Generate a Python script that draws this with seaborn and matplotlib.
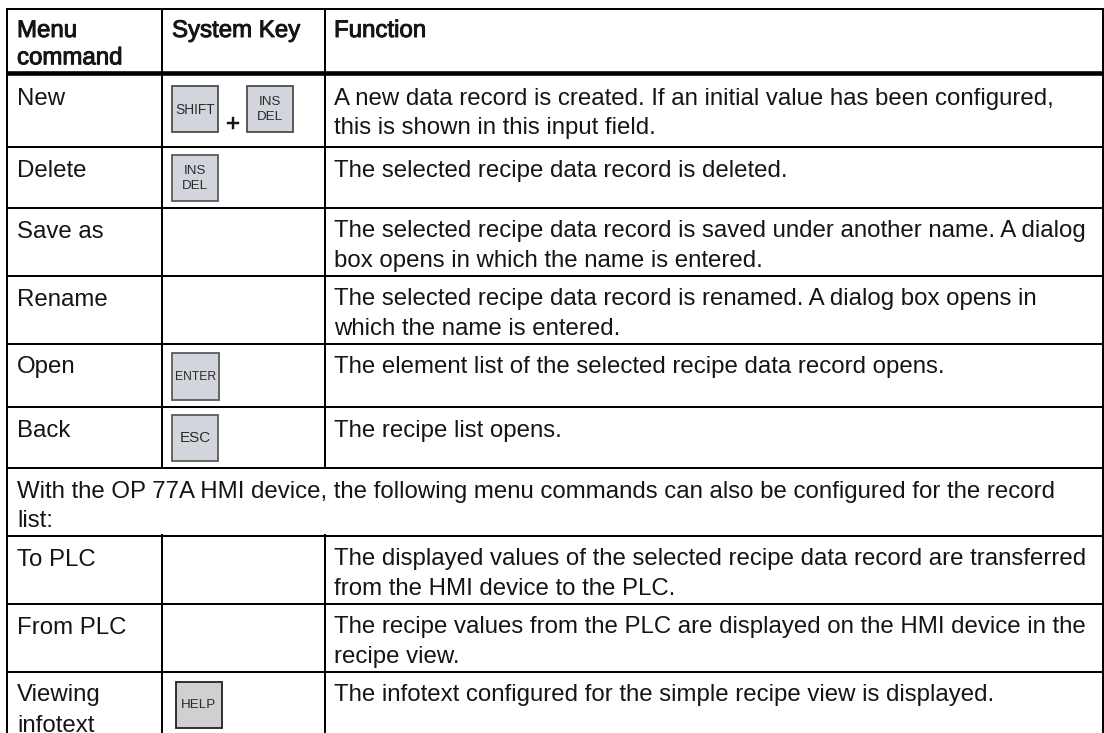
import matplotlib
matplotlib.use("Agg")
import matplotlib.pyplot as plt
import matplotlib.patheffects as pe
from matplotlib.patches import Rectangle
import seaborn as sns

sns.set_theme(style="white")
plt.rcParams["font.family"] = ["Liberation Sans", "DejaVu Sans"]

# ---------- content ----------
headers = ["Menu\ncommand", "System Key", "Function"]
menu_commands = ["New", "Delete", "Save as", "Rename", "Open", "Back",
                 "To PLC", "From PLC", "Viewing\ninfotext"]
functions = [
    "A new data record is created. If an initial value has been configured,\nthis is shown in this input field.",
    "The selected recipe data record is deleted.",
    "The selected recipe data record is saved under another name. A dialog\nbox opens in which the name is entered.",
    "The selected recipe data record is renamed. A dialog box opens in\nwhich the name is entered.",
    "The element list of the selected recipe data record opens.",
    "The recipe list opens.",
    "The displayed values of the selected recipe data record are transferred\nfrom the HMI device to the PLC.",
    "The recipe values from the PLC are displayed on the HMI device in the\nrecipe view.",
    "The infotext configured for the simple recipe view is displayed.",
]
span_text = ("With the OP 77A HMI device, the following menu commands can also be configured for the record\nlist:")

# ---------- layout (pixels) ----------
W, H = 1104, 733
col_x = [7, 162, 325, 1103]
row_y = [9, 73, 147, 208, 275.5, 343.5, 407, 468, 535.5, 604, 672]
row_baseline = [105, 176.7, 237.5, 305.5, 373, 437, 565.5, 633.5, 700.5]
keys = [  # label, x, y, w, h, fill, edge, size
    ("SHIFT", 172, 86, 46, 46, "#d2d6dc", "#4d4d4d", 9.9),
    ("INS\nDEL", 247, 86, 46, 46, "#d2d6dc", "#4d4d4d", 9.6),
    ("INS\nDEL", 172, 155, 46, 46, "#d2d6dc", "#5a5a5a", 9.6),
    ("ENTER", 172, 353, 47, 47, "#d2d6dc", "#5a5a5a", 8.7),
    ("ESC", 172, 415, 46, 46, "#d2d6dc", "#5a5a5a", 11.0),
    ("HELP", 176, 682, 46, 46, "#d0d0d0", "#222222", 9.6),
]
FS = 17.3
LINE = 29.2
TC = "#151515"

fig = plt.figure(figsize=(W / 100, H / 100), dpi=100, facecolor="white")
ax = fig.add_axes([0, 0, 1, 1])
ax.set_xlim(0, W)
ax.set_ylim(H, 0)
ax.axis("off")


def put(x, base, s, line=LINE, bold=False):
    for i, t in enumerate(s.split("\n")):
        txt = ax.text(x, base + i * line, t, va="baseline", ha="left",
                      fontsize=FS, color=TC, zorder=5)
        if bold:
            txt.set_path_effects([pe.withStroke(linewidth=0.7, foreground=TC)])


# grid
lw_px = 2.0
for y in row_y:
    lw = 4.6 if y == 73 else lw_px
    ax.plot([col_x[0] - 1, col_x[-1] + 1], [y, y], color="black", lw=lw * 0.72,
            solid_capstyle="butt")
for x in col_x:
    ax.plot([x, x], [row_y[0], H], color="black", lw=lw_px * 0.72, solid_capstyle="butt")
# span row: cover inner verticals
ax.add_patch(Rectangle((col_x[0] + 2, row_y[7] + 1.2), col_x[3] - col_x[0] - 4,
                       row_y[8] - row_y[7] - 2.4, fc="white", ec="none", zorder=3))

# header
put(17, 37, headers[0], line=27.3, bold=True)
put(172, 37, headers[1], bold=True)
put(334, 37, headers[2], bold=True)

# body
for m, f, b in zip(menu_commands, functions, row_baseline):
    put(17, b, m, line=31)
    put(334, b, f)

put(17, 497.7, span_text, line=29)

# keys
for label, x, y, w, h, fc, ec, fs in keys:
    ax.add_patch(Rectangle((x, y), w, h, fc=fc, ec=ec, lw=1.3, zorder=4))
    ax.text(x + w / 2, y + h / 2 + 0.5, label, ha="center", va="center", fontsize=fs,
            color="#2a2a2a", zorder=5, linespacing=1.4)
ax.text(233, 125, "+", ha="center", va="center", fontsize=FS, color=TC,
        path_effects=[pe.withStroke(linewidth=0.3, foreground=TC)])

fig.savefig("out.png", dpi=100)
